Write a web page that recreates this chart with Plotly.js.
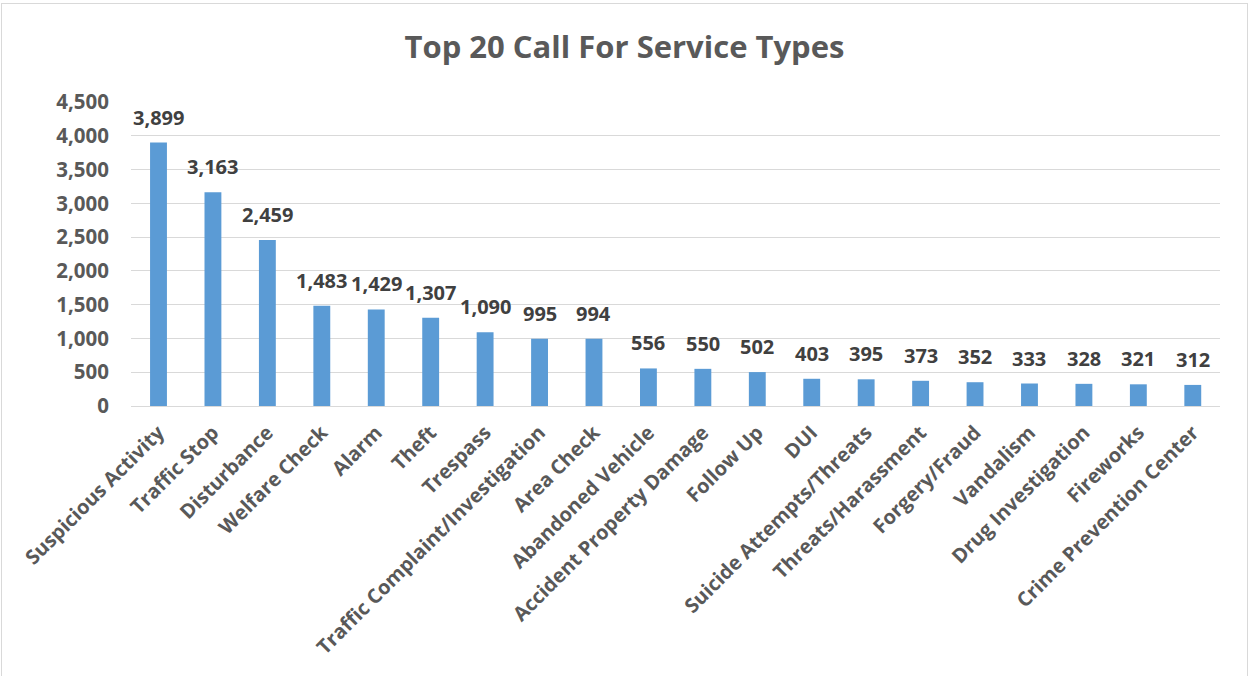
<!DOCTYPE html>
<html>
<head>
<meta charset="utf-8">
<script src="https://cdn.plot.ly/plotly-3.0.1.min.js"></script>
<style>
  html, body { margin: 0; padding: 0; background: #fff; }
  #chart { width: 1249px; height: 676px; }
  #frame { position: absolute; left: 1px; top: 3px; width: 1245px; height: 700px; border: 1px solid #d9d9d9; pointer-events: none; }
</style>
</head>
<body>
<div id="chart"></div>
<div id="frame"></div>
<script>
const categories = [
  "Suspicious Activity", "Traffic Stop", "Disturbance", "Welfare Check", "Alarm",
  "Theft", "Trespass", "Traffic Complaint/Investigation", "Area Check", "Abandoned Vehicle",
  "Accident Property Damage", "Follow Up", "DUI", "Suicide Attempts/Threats", "Threats/Harassment",
  "Forgery/Fraud", "Vandalism", "Drug Investigation", "Fireworks", "Crime Prevention Center"
];
const callCounts = [3899, 3163, 2459, 1483, 1429, 1307, 1090, 995, 994, 556, 550, 502, 403, 395, 373, 352, 333, 328, 321, 312];
const yTickValues = [0, 500, 1000, 1500, 2000, 2500, 3000, 3500, 4000, 4500];
const yTickLabels = ["0", "500", "1,000", "1,500", "2,000", "2,500", "3,000", "3,500", "4,000", "4,500"];
const chartTitle = "Top 20 Call For Service Types";

const fmt = v => v.toLocaleString("en-US");

const trace = {
  type: "bar",
  x: categories,
  y: callCounts,
  marker: { color: "#5B9BD5" },
  cliponaxis: false,
  hoverinfo: "x+y"
};

const labelAnnotations = categories.map((c, i) => ({
  x: c,
  y: callCounts[i],
  xref: "x",
  yref: "y",
  text: "<b>" + fmt(callCounts[i]) + "</b>",
  showarrow: false,
  xanchor: "center",
  yanchor: "bottom",
  yshift: 10,
  font: { family: "Open Sans", size: 20, color: "#404040" }
}));

const layout = {
  width: 1249,
  height: 676,
  margin: { l: 131, r: 29, t: 102, b: 270 },
  paper_bgcolor: "#ffffff",
  plot_bgcolor: "#ffffff",
  bargap: 0.69,
  showlegend: false,
  font: { family: "Open Sans", color: "#595959" },
  title: {
    text: "<b>" + chartTitle + "</b>",
    font: { family: "Open Sans", size: 31, color: "#595959" },
    x: 0.5, xanchor: "center",
    y: 0.93, yanchor: "middle"
  },
  annotations: labelAnnotations,
  xaxis: {
    type: "category",
    tickangle: -45,
    tickfont: { family: "Open Sans", size: 20, color: "#595959", weight: "bold" },
    showgrid: false,
    showline: true,
    linecolor: "#d9d9d9",
    linewidth: 1,
    ticks: "",
    ticklabelstandoff: 6,
    automargin: false
  },
  yaxis: {
    range: [0, 4500],
    tickvals: yTickValues,
    ticktext: yTickLabels,
    tickfont: { family: "Open Sans", size: 20.5, color: "#595959", weight: "bold" },
    showgrid: true,
    gridcolor: "#d9d9d9",
    gridwidth: 1,
    zeroline: false,
    showline: false,
    ticks: "",
    ticklabelstandoff: 21,
    automargin: false
  }
};

Plotly.newPlot("chart", [trace], layout, { displayModeBar: false, staticPlot: true });
</script>
</body>
</html>
